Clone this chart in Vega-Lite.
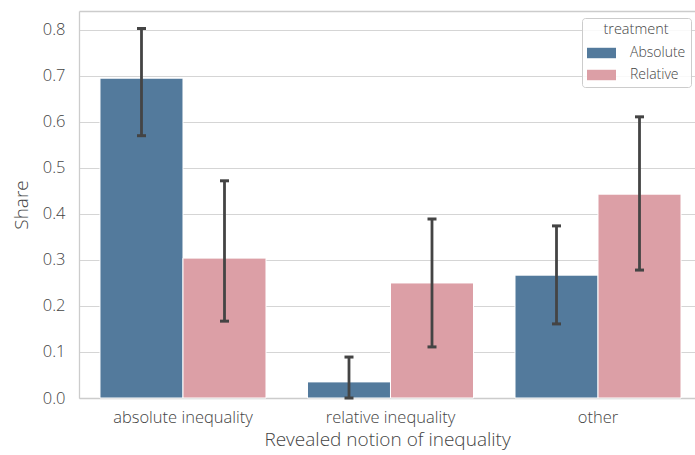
{
  "$schema": "https://vega.github.io/schema/vega-lite/v6.json",
  "width": 616,
  "height": 387,
  "autosize": {"type": "none"},
  "padding": {"left": 79, "top": 11, "right": 0, "bottom": 57},
  "background": "white",
  "config": {
    "view": {"stroke": null},
    "font": "Open Sans",
    "axis": {
      "labelFont": "Open Sans",
      "titleFont": "Open Sans",
      "labelFontWeight": 300,
      "titleFontWeight": 300,
      "labelColor": "#444444",
      "titleColor": "#444444",
      "labelFontSize": 16.5,
      "titleFontSize": 19,
      "domainColor": "#cccccc",
      "domainWidth": 1.3,
      "gridColor": "#d5d5d5",
      "gridWidth": 1.1,
      "ticks": false
    },
    "legend": {
      "labelFont": "Open Sans",
      "titleFont": "Open Sans",
      "labelFontWeight": 300,
      "titleFontWeight": 300
    }
  },
  "data": {
    "values": [
      {"notion": "absolute inequality", "treatment": "Absolute", "share": 0.695, "lo": 0.570, "hi": 0.803},
      {"notion": "absolute inequality", "treatment": "Relative", "share": 0.304, "lo": 0.167, "hi": 0.472},
      {"notion": "relative inequality", "treatment": "Absolute", "share": 0.035, "lo": 0.0, "hi": 0.089},
      {"notion": "relative inequality", "treatment": "Relative", "share": 0.25, "lo": 0.111, "hi": 0.389},
      {"notion": "other", "treatment": "Absolute", "share": 0.267, "lo": 0.161, "hi": 0.374},
      {"notion": "other", "treatment": "Relative", "share": 0.443, "lo": 0.278, "hi": 0.611}
    ]
  },
  "encoding": {
    "xOffset": {
      "field": "treatment",
      "type": "nominal",
      "sort": ["Absolute", "Relative"],
      "scale": {"paddingInner": 0, "paddingOuter": 0}
    }
  },
  "resolve": {"axis": {"x": "independent"}},
  "layer": [
    {
      "mark": {"type": "bar", "stroke": "white", "strokeWidth": 1},
      "encoding": {
        "x": {
          "field": "notion",
          "type": "nominal",
          "sort": ["absolute inequality", "relative inequality", "other"],
          "scale": {"paddingInner": 0.2, "paddingOuter": 0.0843, "align": 0.6},
          "axis": {"orient": "bottom", "labelAngle": 0, "labelPadding": 11, "title": "Revealed notion of inequality", "titlePadding": 5, "grid": false}
        },
        "y": {
          "field": "share",
          "type": "quantitative",
          "scale": {"domain": [0, 0.841], "nice": false},
          "axis": {
            "values": [0, 0.1, 0.2, 0.3, 0.4, 0.5, 0.6, 0.7, 0.8],
            "format": ".1f",
            "title": "Share",
            "labelPadding": 14,
            "titlePadding": 11
          }
        },
        "color": {
          "field": "treatment",
          "type": "nominal",
          "sort": ["Absolute", "Relative"],
          "scale": {"range": ["#537a9c", "#dc9fa6"]},
          "legend": {
            "title": "treatment",
            "orient": "none",
            "legendX": 503,
            "legendY": 7,
            "titleAnchor": "middle",
            "titleFontSize": 14.5,
            "titleColor": "#444444",
            "titlePadding": 1,
            "labelFontSize": 14,
            "labelColor": "#444444",
            "labelOffset": 14,
            "symbolType": "M-1,-0.36L1,-0.36L1,0.36L-1,0.36Z",
            "symbolSize": 841,
            "symbolStrokeWidth": 0,
            "symbolOpacity": 1,
            "rowPadding": 0,
            "padding": 5,
            "fillColor": "rgba(255,255,255,0.85)",
            "strokeColor": "#cccccc",
            "cornerRadius": 3
          }
        }
      }
    },
    {
      "mark": {"type": "rule", "color": "#444444", "strokeWidth": 2.8},
      "encoding": {
        "x": {
          "field": "notion",
          "type": "nominal",
          "sort": ["absolute inequality", "relative inequality", "other"],
          "axis": {"orient": "top", "labels": false, "ticks": false, "title": null, "grid": false}
        },
        "y": {"field": "lo", "type": "quantitative"},
        "y2": {"field": "hi"}
      }
    },
    {
      "mark": {"type": "tick", "color": "#444444", "thickness": 3, "size": 9, "opacity": 1},
      "encoding": {
        "x": {"field": "notion", "type": "nominal", "sort": ["absolute inequality", "relative inequality", "other"], "axis": null},
        "y": {"field": "lo", "type": "quantitative"}
      }
    },
    {
      "mark": {"type": "tick", "color": "#444444", "thickness": 3, "size": 9, "opacity": 1},
      "encoding": {
        "x": {"field": "notion", "type": "nominal", "sort": ["absolute inequality", "relative inequality", "other"], "axis": null},
        "y": {"field": "hi", "type": "quantitative"}
      }
    }
  ]
}
